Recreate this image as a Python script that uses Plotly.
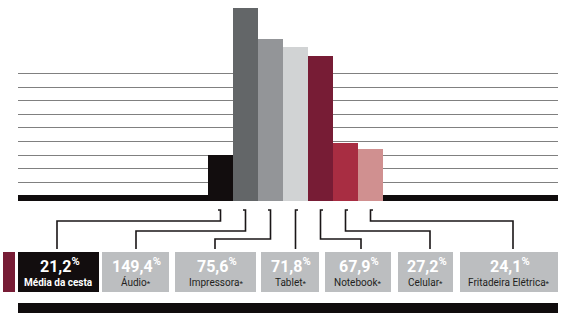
import plotly.graph_objects as go

# ---------------- data ----------------
categories = ["Média da cesta", "Áudio", "Impressora", "Tablet", "Notebook", "Celular", "Fritadeira Elétrica"]
values = [21.2, 149.4, 75.6, 71.8, 67.9, 27.2, 24.1]          # % shown in the labels
# bar heights as drawn in the reference (the infographic is not to scale), in gridline units
bar_heights = [3.0, 13.8, 11.52, 10.94, 10.28, 3.89, 3.45]
bar_colors = ["#120d0e", "#636668", "#939598", "#d1d3d4", "#771c35", "#a82d42", "#d09090"]
asterisk = [False, True, True, True, True, True, True]

# ---------------- layout constants ----------------
W, H = 562, 321
PLOT_L, PLOT_R = 18, 558          # px extent of plot area / gridlines
PLOT_BOTTOM = 201                 # px bottom of bars (bottom of baseline strip)
ZERO_PX = 196                     # px of value 0 (baseline)
UNIT_PX = 13.625                  # px per gridline unit
BAR_W = 25                        # px per category
FIRST_BAR_LEFT = 208              # px left edge of first bar

BASE = -(PLOT_BOTTOM - ZERO_PX) / UNIT_PX
y_top = ZERO_PX / UNIT_PX
x_lo = -0.5 - (FIRST_BAR_LEFT - PLOT_L) / BAR_W
x_hi = x_lo + (PLOT_R - PLOT_L) / BAR_W


def px(x):
    return x / W


def py(y):
    return 1 - y / H


def bar_center_px(i):
    return PLOT_L + (i - x_lo) * BAR_W


fig = go.Figure()
fig.add_trace(go.Bar(
    x=categories,
    y=[h - BASE for h in bar_heights],
    base=BASE,
    marker=dict(color=bar_colors, line=dict(width=0)),
    width=1.0,
    hoverinfo="skip",
))

shapes = []
# baseline strip
shapes.append(dict(type="rect", xref="paper", yref="y", layer="between",
                   x0=px(PLOT_L), x1=px(PLOT_R), y0=BASE, y1=(ZERO_PX - 195) / UNIT_PX,
                   fillcolor="#100c0d", line=dict(width=0)))

# boxes
box_edges = [(18, 99), (102, 169), (175, 256), (261, 319), (325, 391), (398, 453), (460, 558)]
BOX_T, BOX_B = 252, 292
for i, (x0, x1) in enumerate(box_edges):
    shapes.append(dict(type="rect", xref="paper", yref="paper",
                       x0=px(x0), x1=px(x1), y0=py(BOX_B), y1=py(BOX_T),
                       fillcolor="#120d0e" if i == 0 else "#bcbec0", line=dict(width=0)))
# small maroon marker
shapes.append(dict(type="rect", xref="paper", yref="paper",
                   x0=px(3), x1=px(15), y0=py(BOX_B), y1=py(BOX_T),
                   fillcolor="#771c35", line=dict(width=0)))
# bottom strip
shapes.append(dict(type="rect", xref="paper", yref="paper",
                   x0=px(18), x1=px(558), y0=py(313), y1=py(303),
                   fillcolor="#100c0d", line=dict(width=0)))

# connectors
levels = [221, 231, 239, None, 239, 231, 221]
drop_x = [57, 136, 215, None, 361, 430, 513]
hook_dir = [-1, -1, -1, 1, 1, 1, 1]
TOP_Y, END_Y = 210, 249
for i in range(len(categories)):
    cx = bar_center_px(i)
    pts = [(cx + 2.5 * hook_dir[i], TOP_Y), (cx, TOP_Y)]
    if levels[i] is None:
        pts.append((cx, END_Y))
    else:
        pts += [(cx, levels[i]), (drop_x[i], levels[i]), (drop_x[i], END_Y)]
    path = "M " + " L ".join(f"{px(a):.5f},{py(b):.5f}" for a, b in pts)
    shapes.append(dict(type="path", xref="paper", yref="paper", path=path,
                       line=dict(color="#1a1617", width=1.6)))

annotations = []
NUM_FONT = "Roboto, sans-serif"
for i, (x0, x1) in enumerate(box_edges):
    cxb = (x0 + x1) / 2
    num = f"{values[i]:.1f}".replace(".", ",")
    annotations.append(dict(xref="paper", yref="paper", x=px(cxb + 1), y=py(265),
                            xanchor="center", yanchor="middle", showarrow=False,
                            text=f"<b>{num}<sup>%</sup></b>",
                            font=dict(family=NUM_FONT, size=16, color="white")))
    if i == 0:
        txt = f"<b>{categories[i]}</b>"
        col = "white"
    else:
        txt = categories[i] + ("<span style='font-size:8px'>*</span>" if asterisk[i] else "")
        col = "#231f20"
    annotations.append(dict(xref="paper", yref="paper", x=px(cxb), y=py(282),
                            xanchor="center", yanchor="middle", showarrow=False,
                            text=txt, font=dict(family="Roboto, sans-serif", size=10, color=col)))

fig.update_layout(
    width=W, height=H,
    margin=dict(l=0, r=0, t=0, b=0),
    paper_bgcolor="white", plot_bgcolor="white",
    showlegend=False, bargap=0,
    xaxis=dict(type="category", categoryorder="array", categoryarray=categories,
               range=[x_lo, x_hi], domain=[px(PLOT_L), px(PLOT_R)],
               showgrid=False, showticklabels=False, zeroline=False, showline=False, ticks=""),
    yaxis=dict(range=[BASE, y_top], domain=[py(PLOT_BOTTOM), 1],
               tickmode="array", tickvals=list(range(1, 10)),
               showgrid=True, gridcolor="#808080", gridwidth=1,
               showticklabels=False, zeroline=False, showline=False, ticks=""),
    shapes=shapes, annotations=annotations,
)

fig.write_html("out.html")
